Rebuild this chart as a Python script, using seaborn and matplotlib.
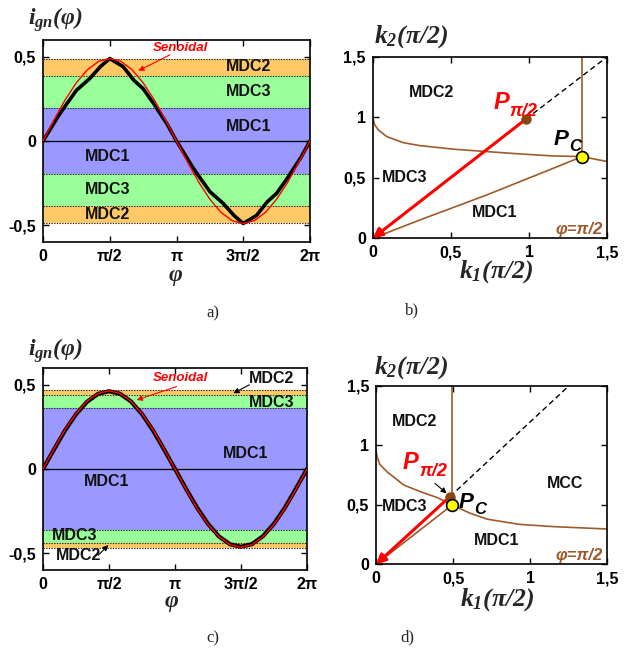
import matplotlib
matplotlib.use("Agg")
import matplotlib.pyplot as plt
import seaborn as sns
import pandas as pd

# ---------------- data ----------------
# phase in units of pi
phi_sine = [0, 1/12, 2/12, 3/12, 4/12, 5/12, 6/12, 7/12, 8/12, 9/12, 10/12, 11/12, 1,
            13/12, 14/12, 15/12, 16/12, 17/12, 18/12, 19/12, 20/12, 21/12, 22/12, 23/12, 2]
sine_a = [0, 0.127, 0.245, 0.346, 0.424, 0.473, 0.490, 0.473, 0.424, 0.346, 0.245, 0.127, 0,
          -0.127, -0.245, -0.346, -0.424, -0.473, -0.490, -0.473, -0.424, -0.346, -0.245, -0.127, 0]
sine_c = [0, 0.120, 0.233, 0.329, 0.403, 0.449, 0.465, 0.449, 0.403, 0.329, 0.233, 0.120, 0,
          -0.120, -0.233, -0.329, -0.403, -0.449, -0.465, -0.449, -0.403, -0.329, -0.233, -0.120, 0]
black_c = [0, 0.116, 0.229, 0.325, 0.399, 0.446, 0.462, 0.447, 0.401, 0.326, 0.229, 0.117, 0,
           -0.117, -0.229, -0.326, -0.401, -0.447, -0.462, -0.446, -0.399, -0.325, -0.229, -0.116, 0]

phi_black_a = [0, 0.125, 0.25, 0.35, 0.43, 0.5, 0.6, 0.68, 0.75, 0.83, 0.93, 1.0,
               1.125, 1.25, 1.35, 1.43, 1.5, 1.6, 1.68, 1.75, 1.83, 1.93, 2.0]
black_a = [0, 0.161, 0.301, 0.371, 0.442, 0.490, 0.442, 0.361, 0.311, 0.221, 0.100, 0,
           -0.161, -0.301, -0.371, -0.442, -0.490, -0.442, -0.361, -0.311, -0.221, -0.100, 0]

# band edges (MDC2 top, MDC2/MDC3, MDC3/MDC1), symmetric about 0
bands_a = [0.49, 0.385, 0.195]
bands_c = [0.472, 0.440, 0.362]
band_names = ["MDC2", "MDC3", "MDC1"]

x_ticks_pi = [0, 0.5, 1, 1.5, 2]
x_tick_labels = ["0", "π/2", "π", "3π/2", "2π"]
y_ticks_i = [-0.5, 0, 0.5]
y_tick_labels_i = ["-0,5", "0", "0,5"]
k_ticks = [0, 0.5, 1, 1.5]
k_tick_labels = ["0", "0,5", "1", "1,5"]

# panel b
curve_b_k1 = [0, 0.012, 0.036, 0.09, 0.196, 0.30, 0.516, 0.73, 0.94, 1.156, 1.337, 1.5]
curve_b_k2 = [1.0, 0.94, 0.895, 0.84, 0.79, 0.766, 0.736, 0.716, 0.697, 0.68, 0.675, 0.634]
lower_b_k1 = [0, 0.303, 0.729, 1.156, 1.339]
lower_b_k2 = [0, 0.152, 0.358, 0.579, 0.675]
vert_b_k1 = [1.337, 1.337]
vert_b_k2 = [0.675, 1.5]
P_b = (0.98, 0.985)
Pc_b = (1.339, 0.675)
dash_b_end = (1.5, 1.5)

# panel d
curve_d_k1 = [0, 0.008, 0.025, 0.07, 0.18, 0.29, 0.40, 0.49, 0.61, 0.72, 0.93, 1.15, 1.5]
curve_d_k2 = [0.96, 0.90, 0.84, 0.78, 0.667, 0.61, 0.56, 0.50, 0.43, 0.38, 0.336, 0.317, 0.297]
lower_d_k1 = [0, 0.485]
lower_d_k2 = [0, 0.49]
vert_d_k1 = [0.49, 0.49]
vert_d_k2 = [0.58, 1.5]
P_d = (0.48, 0.57)
Pc_d = (0.49, 0.495)
dash_d_end = (1.25, 1.5)

# ---------------- style ----------------
sns.set_theme(style="ticks")
plt.rcParams["font.family"] = ["Liberation Sans", "DejaVu Sans"]
plt.rcParams["font.weight"] = "bold"
plt.rcParams["mathtext.fontset"] = "custom"
plt.rcParams["mathtext.it"] = "Liberation Serif:italic:bold"
plt.rcParams["mathtext.rm"] = "Liberation Serif:italic:bold"
plt.rcParams["mathtext.bf"] = "Liberation Serif:italic:bold"
plt.rcParams["axes.linewidth"] = 1.2

ORANGE = "#FFC966"
GREEN = "#99FF99"
BLUE = "#9999FF"
BROWN = "#9E5A2A"
DOT = "#8B4513"
band_colors = [ORANGE, GREEN, BLUE]

W, H = 639, 650
fig = plt.figure(figsize=(W / 100, H / 100), dpi=100)


def add_ax(l, r, t, b):
    return fig.add_axes([l / W, 1 - b / H, (r - l) / W, (b - t) / H])


def style_ax(ax):
    ax.tick_params(direction="in", top=True, right=True, length=4, width=1,
                   labelsize=11.5, pad=5, colors="black")
    for lab in ax.get_xticklabels() + ax.get_yticklabels():
        lab.set_fontweight("bold")
    for s in ax.spines.values():
        s.set_color("black")
        s.set_linewidth(1.2)


def ftext(x, y, s, **kw):
    fig.text(x / W, 1 - y / H, s, ha="center", va="center", **kw)


lab_kw = dict(fontsize=11.5, fontweight="bold", ha="center", va="center", color="#111111")


def wave_panel(ax, bands, black_x, black_y, sine_y, black_lw):
    edges = [bands[0], bands[1], bands[2], 0, -bands[2], -bands[1], -bands[0]]
    cols = band_colors + band_colors[::-1]
    for i in range(6):
        ax.axhspan(edges[i + 1], edges[i], color=cols[i], lw=0, zorder=0)
    for e in edges:
        if e != 0:
            ax.axhline(e, color="#222222", ls=(0, (1.2, 1.2)), lw=0.8, zorder=1)
    ax.axhline(0, color="black", lw=0.9, zorder=1)
    sns.lineplot(x=black_x, y=black_y, ax=ax, color="black", lw=black_lw,
                 sort=False, estimator=None, zorder=3)
    sns.lineplot(x=phi_sine, y=sine_y, ax=ax, color="red", lw=1.0,
                 sort=False, estimator=None, zorder=4)
    ax.set_xlim(0, 2)
    ax.set_ylim(-0.6, 0.6)
    ax.set_xticks(x_ticks_pi)
    ax.set_xticklabels(x_tick_labels)
    ax.set_yticks(y_ticks_i)
    ax.set_yticklabels(y_tick_labels_i)
    ax.set_xlabel("")
    ax.set_ylabel("")
    style_ax(ax)


def k_panel(ax, ck1, ck2, lk1, lk2, vk1, vk2, P, Pc, dend):
    sns.lineplot(x=ck1, y=ck2, ax=ax, color=BROWN, lw=1.2, sort=False, estimator=None)
    sns.lineplot(x=lk1, y=lk2, ax=ax, color=BROWN, lw=1.2, sort=False, estimator=None)
    sns.lineplot(x=vk1, y=vk2, ax=ax, color=BROWN, lw=1.2, sort=False, estimator=None)
    ax.plot([P[0], dend[0]], [P[1], dend[1]], color="black", ls=(0, (4, 2.5)), lw=1.0)
    ax.annotate("", xy=(0, 0), xytext=P,
                arrowprops=dict(arrowstyle="-|>", color="red", lw=2.2,
                                mutation_scale=14, shrinkA=0, shrinkB=0), zorder=5)
    ax.plot([P[0]], [P[1]], "o", color=DOT, ms=6.5, zorder=6)
    ax.plot([Pc[0]], [Pc[1]], "o", color="#FFFF00", mec="black", mew=1.2, ms=8.5, zorder=7)
    ax.set_xlim(0, 1.5)
    ax.set_ylim(0, 1.5)
    ax.set_xticks(k_ticks)
    ax.set_xticklabels(k_tick_labels)
    ax.set_yticks(k_ticks)
    ax.set_yticklabels(k_tick_labels)
    ax.set_xlabel("")
    ax.set_ylabel("")
    style_ax(ax)


def p_label(ax, x, y, sub, color, s_main, s_sub, dy=0):
    t = ax.text(x, y, "P", color=color, fontsize=s_main, fontweight="bold",
                fontstyle="italic", ha="left", va="baseline", zorder=8)
    ax.annotate(sub, xy=(1, 0), xycoords=t, xytext=(0.5, dy), textcoords="offset points",
                color=color, fontsize=s_sub, fontweight="bold", fontstyle="italic",
                ha="left", va="baseline", zorder=8)


# ---------------- panel a ----------------
ax_a = add_ax(43, 310, 40, 242)
wave_panel(ax_a, bands_a, phi_black_a, black_a, sine_a, 2.6)
for (x, y, s) in [(1.538, 0.44, "MDC2"), (1.538, 0.297, "MDC3"), (1.538, 0.084, "MDC1"),
                  (0.482, -0.09, "MDC1"), (0.482, -0.29, "MDC3"), (0.482, -0.434, "MDC2")]:
    ax_a.text(x, y, s, **lab_kw)
ax_a.text(1.026, 0.552, "Senoidal", color="red", fontsize=9.5, fontweight="bold",
          fontstyle="italic", ha="center", va="center")
ax_a.annotate("", xy=(0.714, 0.417), xytext=(0.951, 0.512),
              arrowprops=dict(arrowstyle="-|>", color="red", lw=0.8, mutation_scale=8,
                              shrinkA=0, shrinkB=0))

# ---------------- panel c ----------------
ax_c = add_ax(43, 307, 368, 570)
wave_panel(ax_c, bands_c, phi_sine, black_c, sine_c, 3.0)
for (x, y, s) in [(1.733, 0.54, "MDC2"), (1.733, 0.397, "MDC3"), (1.538, 0.093, "MDC1"),
                  (0.482, -0.076, "MDC1"), (0.242, -0.393, "MDC3"), (0.267, -0.516, "MDC2")]:
    ax_c.text(x, y, s, **lab_kw)
ax_c.text(1.038, 0.54, "Senoidal", color="red", fontsize=9.5, fontweight="bold",
          fontstyle="italic", ha="center", va="center")
ax_c.annotate("", xy=(0.71, 0.41), xytext=(1.013, 0.49),
              arrowprops=dict(arrowstyle="-|>", color="red", lw=0.8, mutation_scale=8,
                              shrinkA=0, shrinkB=0))
ax_c.annotate("", xy=(1.442, 0.45), xytext=(1.563, 0.50),
              arrowprops=dict(arrowstyle="-|>", color="black", lw=0.8, mutation_scale=8,
                              shrinkA=0, shrinkB=0))
ax_c.annotate("", xy=(0.495, -0.452), xytext=(0.419, -0.512),
              arrowprops=dict(arrowstyle="-|>", color="black", lw=0.8, mutation_scale=8,
                              shrinkA=0, shrinkB=0))

# ---------------- panel b ----------------
ax_b = add_ax(372.7, 607.3, 56.7, 238.3)
k_panel(ax_b, curve_b_k1, curve_b_k2, lower_b_k1, lower_b_k2, vert_b_k1, vert_b_k2,
        P_b, Pc_b, dash_b_end)
for (x, y, s) in [(0.377, 1.203, "MDC2"), (0.207, 0.504, "MDC3"), (0.782, 0.215, "MDC1")]:
    ax_b.text(x, y, s, **lab_kw)
ax_b.text(1.319, 0.069, "φ=π/2", color=BROWN, fontsize=12, fontweight="bold",
          fontstyle="italic", ha="center", va="center")
p_label(ax_b, 0.771, 1.066, "π/2", "red", 17, 13, dy=-1)
p_label(ax_b, 1.155, 0.771, "C", "black", 16, 12, dy=-1)

# ---------------- panel d ----------------
ax_d = add_ax(376, 607.3, 386, 564.3)
k_panel(ax_d, curve_d_k1, curve_d_k2, lower_d_k1, lower_d_k2, vert_d_k1, vert_d_k2,
        P_d, Pc_d, dash_d_end)
for (x, y, s) in [(0.253, 1.2, "MDC2"), (0.188, 0.484, "MDC3"), (1.226, 0.681, "MCC"),
                  (0.782, 0.198, "MDC1")]:
    ax_d.text(x, y, s, **lab_kw)
ax_d.text(1.316, 0.074, "φ=π/2", color=BROWN, fontsize=12, fontweight="bold",
          fontstyle="italic", ha="center", va="center")
p_label(ax_d, 0.173, 0.80, "π/2", "red", 17, 13, dy=-1)
p_label(ax_d, 0.534, 0.474, "C", "black", 16, 12, dy=-1)
ax_d.annotate("", xy=(0.458, 0.597), xytext=(0.382, 0.681),
              arrowprops=dict(arrowstyle="-|>", color="black", lw=0.8, mutation_scale=8,
                              shrinkA=0, shrinkB=0))

# ---------------- axis titles ----------------
ftext(55, 20, r"$i_{gn}(\varphi)$", fontsize=17)
ftext(175, 277, r"$\varphi$", fontsize=17)
ftext(55, 351, r"$i_{gn}(\varphi)$", fontsize=17)
ftext(172, 602, r"$\varphi$", fontsize=17)
ftext(411, 37, r"$k_{2}(\pi/2)$", fontsize=18.5)
ftext(496, 272, r"$k_{1}(\pi/2)$", fontsize=18.5)
ftext(411, 368, r"$k_{2}(\pi/2)$", fontsize=18.5)
ftext(497, 600, r"$k_{1}(\pi/2)$", fontsize=18.5)

sub_kw = dict(fontsize=12, family="Liberation Serif", fontweight="normal")
ftext(213, 313, "a)", **sub_kw)
ftext(412, 310, "b)", **sub_kw)
ftext(213, 638, "c)", **sub_kw)
ftext(407, 637, "d)", **sub_kw)

fig.savefig("out.png", dpi=100)
